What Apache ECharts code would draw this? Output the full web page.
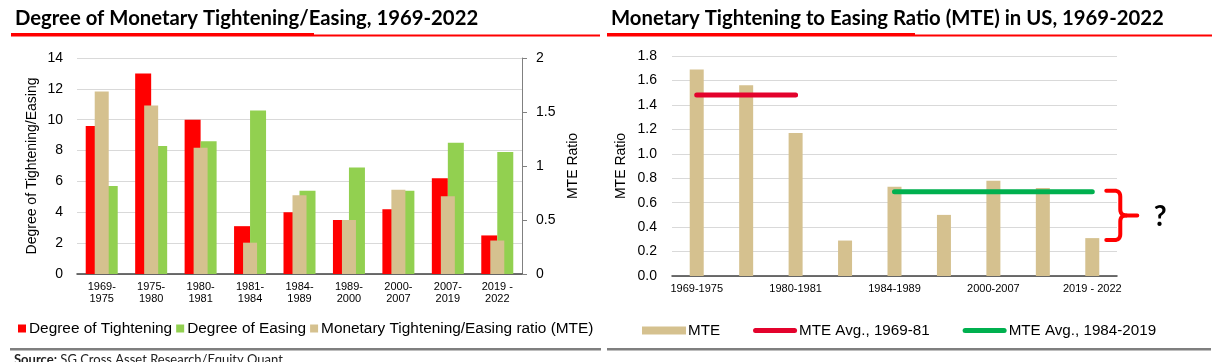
<!DOCTYPE html>
<html><head><meta charset="utf-8">
<script src="https://cdn.jsdelivr.net/npm/echarts@6/dist/echarts.min.js"></script>
<style>html,body{margin:0;padding:0;background:#fff}#c{width:1217px;height:362px}</style>
</head><body><div id="c"></div>
<script>
// ---- data ----
const periods = ['1969-1975','1975-1980','1980-1981','1981-1984','1984-1989','1989-2000','2000-2007','2007-2019','2019 - 2022'];
const tightening = [9.6, 13.0, 10.0, 3.1, 4.0, 3.5, 4.2, 6.2, 2.5];
const easing = [5.7, 8.3, 8.6, 10.6, 5.4, 6.9, 5.4, 8.5, 7.9];
const mteRatio = [1.69, 1.56, 1.17, 0.29, 0.73, 0.50, 0.78, 0.72, 0.31];
const avgEarly = [1.48, 1.48, 1.48, null, null, null, null, null, null];
const avgLate = [null, null, null, null, 0.69, 0.69, 0.69, 0.69, 0.69];

const FONT = 'Liberation Sans, Arial, sans-serif';
const TFONT = 'Lato, sans-serif';
const RED = '#FF0000', GREEN = '#92D050', TAN = '#D5C18F';
const AVG_RED = '#E3022C', AVG_GREEN = '#00B04F';
const LINE_ICON = 'path://M2.5,0 L41.5,0 A2.5,2.5 0 0 1 41.5,5 L2.5,5 A2.5,2.5 0 0 1 2.5,0 Z';

const chart = echarts.init(document.getElementById('c'), null, {renderer: 'canvas'});

const axisLabelCommon = {color: '#000', fontFamily: FONT};

const option = {
  animation: false,
  backgroundColor: '#fff',
  title: [
    {text: 'Degree of Monetary Tightening/Easing, 1969-2022', left: 15, top: 8, padding: 0,
     textStyle: {fontFamily: TFONT, fontWeight: 'bold', fontSize: 20.3, color: '#000'}},
    {text: 'Monetary Tightening to Easing Ratio (MTE) in US, 1969-2022', left: 611, top: 8, padding: 0,
     textStyle: {fontFamily: TFONT, fontWeight: 'bold', fontSize: 20.3, color: '#000'}}
  ],
  legend: [
    {data: ['Degree of Tightening', 'Degree of Easing', 'Monetary Tightening/Easing ratio (MTE)'],
     left: 13, top: 316, itemWidth: 8, itemHeight: 8, itemGap: 4, icon: 'rect',
     textStyle: {fontFamily: FONT, fontSize: 15.4, color: '#000', padding: [0, 0, 0, -2]}},
    {data: [{name: 'MTE', icon: 'rect'}, {name: 'MTE Avg., 1969-81', icon: LINE_ICON}, {name: 'MTE Avg., 1984-2019', icon: LINE_ICON}],
     left: 637, top: 318, itemWidth: 44, itemHeight: 8, itemGap: 33, symbolKeepAspect: true,
     textStyle: {fontFamily: FONT, fontSize: 15.2, color: '#000', padding: [0, 0, 0, -3]}}
  ],
  grid: [
    {left: 77, right: 1217 - 522, top: 58, bottom: 362 - 274},
    {left: 672, right: 1217 - 1117, top: 56, bottom: 362 - 276}
  ],
  xAxis: [
    {type: 'category', gridIndex: 0, data: periods,
     axisLine: {lineStyle: {color: '#404040', width: 1.5}},
     axisTick: {interval: 0, length: 5, lineStyle: {color: '#404040'}},
     axisLabel: Object.assign({}, axisLabelCommon, {interval: 0, fontSize: 11, lineHeight: 12, margin: 7,
       formatter: v => v.replace(/-\s*/, m => m.trim() + '\n')})},
    {type: 'category', gridIndex: 0, data: periods, show: false},
    {type: 'category', gridIndex: 1, data: periods,
     axisLine: {lineStyle: {color: '#404040', width: 1.5}},
     axisTick: {interval: 0, length: 5, lineStyle: {color: '#404040'}},
     axisLabel: Object.assign({}, axisLabelCommon, {interval: 1, fontSize: 11, margin: 7})}
  ],
  yAxis: [
    {type: 'value', gridIndex: 0, min: 0, max: 14, interval: 2,
     name: 'Degree of Tightening/Easing', nameLocation: 'middle', nameRotate: 90, nameGap: 38,
     nameTextStyle: {fontFamily: FONT, fontSize: 14, color: '#000'},
     axisLine: {show: false}, axisTick: {show: false},
     axisLabel: Object.assign({}, axisLabelCommon, {fontSize: 14, margin: 14}),
     splitLine: {lineStyle: {color: '#D9D9D9', width: 1}}},
    {type: 'value', gridIndex: 0, position: 'right', min: 0, max: 2, interval: 0.5,
     name: 'MTE Ratio', nameLocation: 'middle', nameRotate: 90, nameGap: 44,
     nameTextStyle: {fontFamily: FONT, fontSize: 14, color: '#000'},
     axisLine: {show: true, lineStyle: {color: '#808080', width: 1}},
     axisTick: {show: true, length: 5, lineStyle: {color: '#808080'}},
     axisLabel: Object.assign({}, axisLabelCommon, {fontSize: 14, margin: 14}),
     splitLine: {show: false}},
    {type: 'value', gridIndex: 1, min: 0, max: 1.8, interval: 0.2,
     name: 'MTE Ratio', nameLocation: 'middle', nameRotate: 90, nameGap: 44,
     nameTextStyle: {fontFamily: FONT, fontSize: 14, color: '#000'},
     axisLine: {show: false}, axisTick: {show: false},
     axisLabel: Object.assign({}, axisLabelCommon, {fontSize: 14, margin: 15, formatter: v => v.toFixed(1)}),
     splitLine: {lineStyle: {color: '#D9D9D9', width: 1}}}
  ],
  series: [
    {name: 'Degree of Tightening', type: 'bar', xAxisIndex: 0, yAxisIndex: 0, data: tightening,
     barWidth: 16, barGap: '0%', itemStyle: {color: RED}},
    {name: 'Degree of Easing', type: 'bar', xAxisIndex: 0, yAxisIndex: 0, data: easing,
     barWidth: 16, barGap: '0%', itemStyle: {color: GREEN}},
    {name: 'Monetary Tightening/Easing ratio (MTE)', type: 'bar', xAxisIndex: 1, yAxisIndex: 1, data: mteRatio,
     barWidth: 14, itemStyle: {color: TAN}, z: 3},
    {name: 'MTE', type: 'bar', xAxisIndex: 2, yAxisIndex: 2, data: mteRatio,
     barWidth: 14, itemStyle: {color: TAN}},
    {name: 'MTE Avg., 1969-81', type: 'line', xAxisIndex: 2, yAxisIndex: 2, data: avgEarly,
     symbol: 'none', lineStyle: {color: AVG_RED, width: 5, cap: 'round'}, itemStyle: {color: AVG_RED}, z: 4},
    {name: 'MTE Avg., 1984-2019', type: 'line', xAxisIndex: 2, yAxisIndex: 2, data: avgLate,
     symbol: 'none', lineStyle: {color: AVG_GREEN, width: 5, cap: 'round'}, itemStyle: {color: AVG_GREEN}, z: 4}
  ]
};
chart.setOption(option);

// annotation bracket: from the late average line down to the latest MTE value
const last = mteRatio.length - 1;
const px = (i, v) => chart.convertToPixel({xAxisIndex: 2, yAxisIndex: 2}, [i, v]);
const yTop = px(last, avgLate[last])[1] - 1;
const yBot = px(last, mteRatio[last])[1] + 2;
const xC = px(last, 0)[0];
const x0 = xC + 14, x1 = xC + 28, x2 = xC + 45, yM = (yTop + yBot) / 2, r = 6;
function quad(p0, c, p1, n) {
  const out = [];
  for (let k = 1; k <= n; k++) {
    const t = k / n, u = 1 - t;
    out.push([u * u * p0[0] + 2 * u * t * c[0] + t * t * p1[0], u * u * p0[1] + 2 * u * t * c[1] + t * t * p1[1]]);
  }
  return out;
}
const upper = [[x0, yTop], [x1 - r, yTop]]
  .concat(quad([x1 - r, yTop], [x1, yTop], [x1, yTop + r], 6))
  .concat([[x1, yM - r]])
  .concat(quad([x1, yM - r], [x1, yM], [x1 + r, yM], 6))
  .concat([[x2, yM]]);
const lower = [[x1 + r, yM]]
  .concat(quad([x1 + r, yM], [x1, yM], [x1, yM + r], 6))
  .concat([[x1, yBot - r]])
  .concat(quad([x1, yBot - r], [x1, yBot], [x1 - r, yBot], 6))
  .concat([[x0, yBot]]);
const bstyle = {stroke: '#FF0000', lineWidth: 4, fill: null, lineCap: 'round', lineJoin: 'round'};

chart.setOption({
  graphic: [
    {type: 'rect', shape: {x: 11, y: 33, width: 303, height: 3.5}, style: {fill: '#FF0000'}},
    {type: 'rect', shape: {x: 314, y: 34.5, width: 286, height: 2}, style: {fill: '#FF0000'}},
    {type: 'rect', shape: {x: 607, y: 33, width: 308, height: 3.5}, style: {fill: '#FF0000'}},
    {type: 'rect', shape: {x: 915, y: 34.5, width: 297, height: 2}, style: {fill: '#FF0000'}},
    {type: 'rect', shape: {x: 10, y: 348, width: 591, height: 2.5}, style: {fill: '#7F7F7F'}},
    {type: 'rect', shape: {x: 607, y: 348, width: 604, height: 2.5}, style: {fill: '#7F7F7F'}},
    {type: 'text', x: 14, y: 353, style: {text: '{b|Source:} SG Cross Asset Research/Equity Quant',
      font: '13px ' + TFONT, fill: '#222', verticalAlign: 'top',
      rich: {b: {fontWeight: 'bold', fontFamily: TFONT, fontSize: 13, fill: '#222'}}}},
    {type: 'polyline', shape: {points: upper}, style: bstyle, z: 10},
    {type: 'polyline', shape: {points: lower}, style: bstyle, z: 10},
    {type: 'text', x: x2 + 23, y: yM + 2, style: {text: '?', font: 'bold 28px ' + TFONT, fill: '#000', align: 'center', verticalAlign: 'middle'}, z: 10}
  ]
});
</script>
</body></html>
